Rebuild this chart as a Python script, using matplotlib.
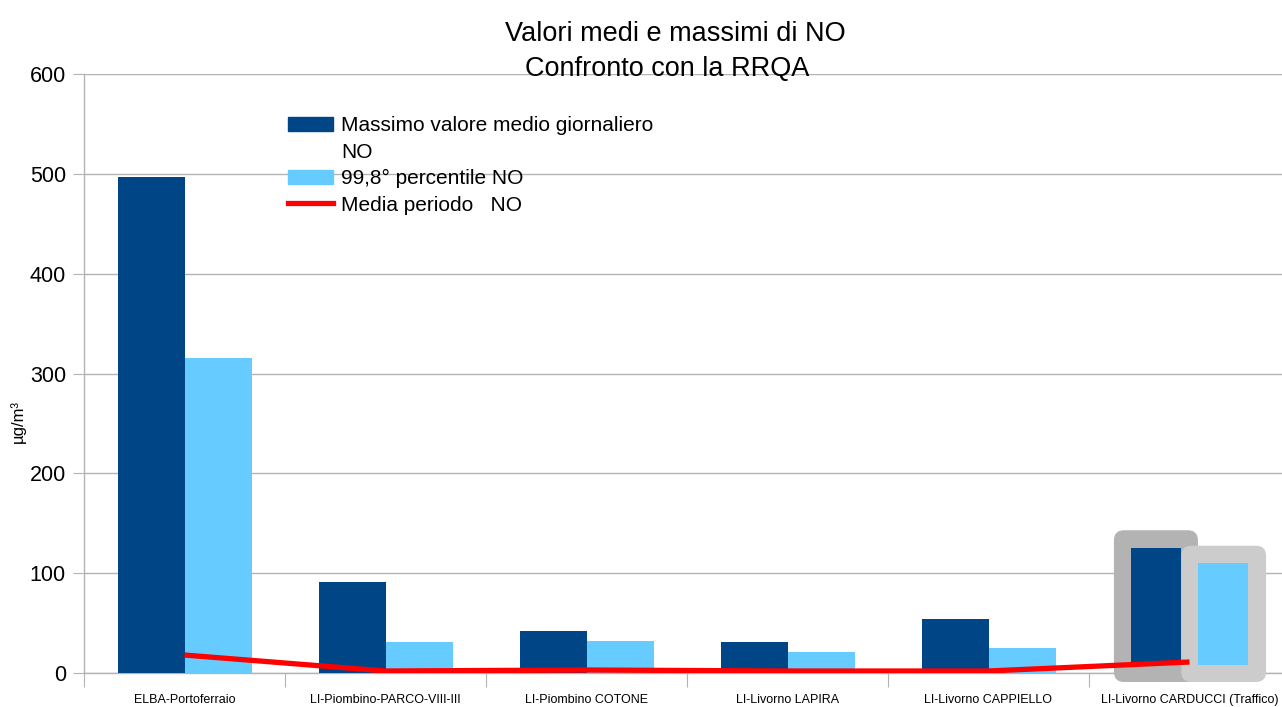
import matplotlib
matplotlib.use("Agg")
import matplotlib.pyplot as plt
from matplotlib.patches import FancyBboxPatch, Patch
from matplotlib.lines import Line2D
import numpy as np

plt.rcParams['font.family'] = ['Liberation Sans', 'DejaVu Sans']

categories = ["ELBA-Portoferraio", "LI-Piombino-PARCO-VIII-III", "LI-Piombino COTONE",
              "LI-Livorno LAPIRA", "LI-Livorno CAPPIELLO", "LI-Livorno CARDUCCI (Traffico)"]
max_daily = [497, 91, 42, 31, 54, 125]
p998 = [316, 31, 32, 21, 25, 110]
media = [18, 2, 3, 2, 2, 11]
yticks = [0, 100, 200, 300, 400, 500, 600]

DARK = "#004586"
LIGHT = "#66CCFF"
GRID = "#b3b3b3"

W, H = 1282, 707
fig = plt.figure(figsize=(W / 100, H / 100), dpi=100)
ax = fig.add_axes([84 / W, 1 - 673 / H, (1290 - 84) / W, (673 - 74) / H])

n = len(categories)
x = np.arange(n)
widths = np.array([1 / 3] * (n - 1) + [0.245])
bottoms = np.array([0] * (n - 1) + [8])

ax.bar(x - 1 / 6, np.array(max_daily) - bottoms, width=widths, bottom=bottoms,
       color=DARK, zorder=3)
ax.bar(x + 1 / 6, np.array(p998) - bottoms, width=widths, bottom=bottoms,
       color=LIGHT, zorder=3)
ax.plot(x, media, color="#ff0000", lw=3.8, zorder=5, solid_capstyle="butt")

# highlight boxes around last category
asp = 201 / 0.998
c = n - 1
ax.add_patch(FancyBboxPatch((c - 0.376, -9), 0.418, 152, boxstyle="round,pad=0,rounding_size=0.05",
                            mutation_aspect=asp, fc="#b3b3b3", ec="none", zorder=2.6, clip_on=False))
ax.add_patch(FancyBboxPatch((c - 0.041, -9), 0.422, 136.5, boxstyle="round,pad=0,rounding_size=0.05",
                            mutation_aspect=asp, fc="#cccccc", ec="none", zorder=2.7, clip_on=False))

ax.set_xlim(-0.5, n - 0.5)
ax.set_ylim(0, 600)
ax.set_yticks(yticks)
ax.set_axisbelow(True)
ax.yaxis.grid(True, color=GRID, lw=1)
for s in ["top", "right"]:
    ax.spines[s].set_visible(False)
for s in ["left", "bottom"]:
    ax.spines[s].set_color(GRID)
    ax.spines[s].set_linewidth(1)
ax.tick_params(axis="y", length=8, color=GRID, labelsize=15.5, pad=5)
ax.set_xticks(np.arange(-0.5, n, 1.0))
ax.set_xticklabels([])
ax.set_xticks(x, minor=True)
ax.set_xticklabels(categories, minor=True, fontsize=9)
ax.tick_params(axis="x", which="major", length=10, color=GRID)
ax.tick_params(axis="x", which="minor", length=0, pad=15)

fig.text(18 / W, 1 - 422 / H, "µg/m³", fontsize=12, rotation=90, ha="center", va="center")

fig.text(675 / W, 1 - 41 / H, "Valori medi e massimi di NO", fontsize=19.5, ha="center", va="baseline")
fig.text(667 / W, 1 - 76 / H, "Confronto con la RRQA", fontsize=19.5, ha="center", va="baseline")

handles = [Patch(color=DARK), Patch(color="none"), Patch(color=LIGHT),
           Line2D([], [], color="#ff0000", lw=3.8)]
labels = ["Massimo valore medio giornaliero", "NO", "99,8° percentile NO", "Media periodo   NO"]
ax.legend(handles, labels, loc="upper left", bbox_to_anchor=(288 / W, 1 - 116 / H),
          bbox_transform=fig.transFigure, frameon=False, fontsize=15, borderpad=0,
          borderaxespad=0, handlelength=2.16, handletextpad=0.38, labelspacing=0.36,
          handleheight=0.65)

fig.savefig("out.png", dpi=100)
